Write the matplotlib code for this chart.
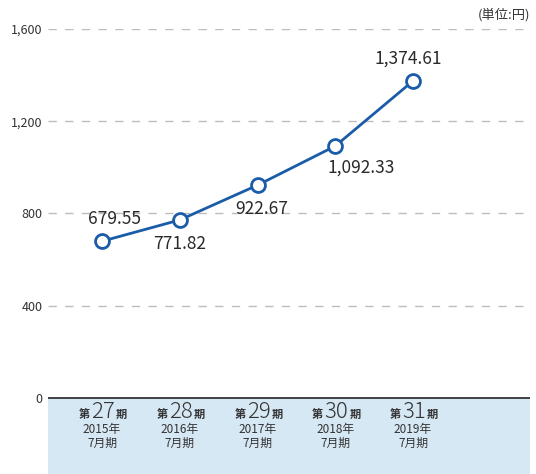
import matplotlib
matplotlib.use("Agg")
import matplotlib.pyplot as plt

plt.rcParams['font.family'] = ['Noto Sans CJK JP', 'DejaVu Sans']

# data
periods = ['27', '28', '29', '30', '31']
years = ['2015年', '2016年', '2017年', '2018年', '2019年']
months = ['7月期'] * 5
values = [679.55, 771.82, 922.67, 1092.33, 1374.61]
value_labels = ['679.55', '771.82', '922.67', '1,092.33', '1,374.61']
yticks = [0, 400, 800, 1200, 1600]
ytick_labels = ['0', '400', '800', '1,200', '1,600']

# label offsets (pixels) relative to each point
label_offsets = [(12, 22), (0, -24), (4, -24), (26, -22), (-5, 22)]

line_color = '#1a5ca8'
text_color = '#333333'

fig = plt.figure(figsize=(5.36, 4.74), dpi=100)
ax = fig.add_axes([48 / 536, 0, 482 / 536, 445 / 474])

x = list(range(len(values)))
ax.set_xlim(-0.695, 5.505)
ax.set_ylim(-330, 1600)

ax.axhspan(-330, 0, color='#d7e8f5', zorder=0)
for t in yticks[1:]:
    ax.axhline(t, color='#bdbdbd', lw=1, ls=(0, (6, 6)), zorder=1)
ax.axhline(0, color='#333333', lw=1.3, zorder=2)

ax.plot(x, values, color=line_color, lw=2, marker='o', markersize=10,
        markerfacecolor='white', markeredgecolor=line_color, markeredgewidth=2, zorder=3)

for xi, v, lab, off in zip(x, values, value_labels, label_offsets):
    ax.annotate(lab, (xi, v), xytext=off, textcoords='offset pixels',
                ha='center', va='center', fontsize=12.5, color='#2a2a2a')

for xi, p, yr, m in zip(x, periods, years, months):
    ax.annotate(p, (xi, 0), xytext=(1, -14), textcoords='offset pixels',
                ha='center', va='center', fontsize=16, color=text_color,
                fontweight='light')
    ax.annotate('第', (xi, 0), xytext=(-12, -17), textcoords='offset pixels',
                ha='right', va='center', fontsize=8, color=text_color,
                fontweight='bold')
    ax.annotate('期', (xi, 0), xytext=(14, -17), textcoords='offset pixels',
                ha='left', va='center', fontsize=8, color=text_color,
                fontweight='bold')
    ax.annotate(yr, (xi, 0), xytext=(0, -32), textcoords='offset pixels',
                ha='center', va='center', fontsize=8.5, color=text_color)
    ax.annotate(m, (xi, 0), xytext=(0, -45), textcoords='offset pixels',
                ha='center', va='center', fontsize=8.5, color=text_color)

ax.set_yticks(yticks)
ax.set_yticklabels(ytick_labels, fontsize=9, color=text_color)
ax.tick_params(axis='y', length=0, pad=4)
ax.set_xticks([])
for s in ax.spines.values():
    s.set_visible(False)

fig.text(530 / 536, 1 - 15 / 474, '(単位:円)', ha='right', va='center',
         fontsize=9.5, color=text_color)

fig.savefig('out.png', dpi=100)
